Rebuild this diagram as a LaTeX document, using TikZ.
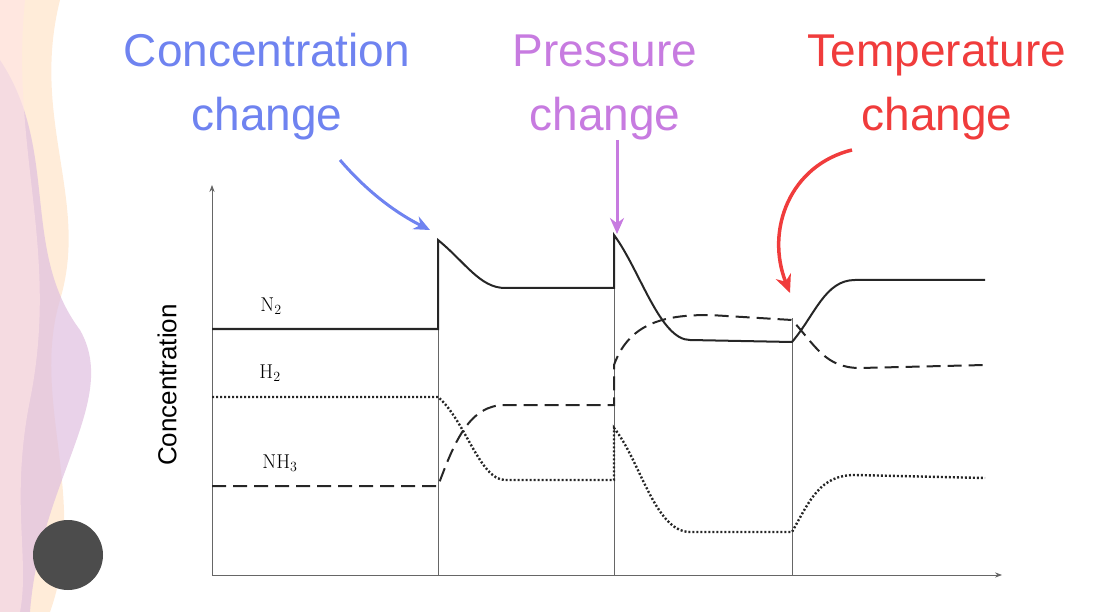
\documentclass[tikz,border=0pt]{standalone}
\usepackage{fontspec}
\setsansfont{Liberation Sans}
\usetikzlibrary{arrows.meta}
\definecolor{cblue}{HTML}{6F83F0}
\definecolor{cviol}{HTML}{C77BE0}
\definecolor{cred}{HTML}{F03C3C}
\begin{document}
\begin{tikzpicture}[x=1pt,y=-1pt,
  title/.style={font=\sffamily\fontsize{46}{64}\selectfont,align=center},
  curve/.style={line width=2pt,black!85},
  lab/.style={font=\fontsize{20}{20}\selectfont},
  guide/.style={black!60,line width=0.8pt}]
\useasboundingbox (0,0) rectangle (1103,612);
% decorative stripe
\fill[orange!15] (0,0) -- (60,0) .. controls (30,120) and (90,200) .. (60,300) .. controls (30,400) and (90,500) .. (50,612) -- (0,612) -- cycle;
\fill[violet!25,opacity=0.7] (0,60) .. controls (60,150) and (20,250) .. (80,330) .. controls (120,400) and (40,480) .. (30,612) -- (0,612) -- cycle;
\fill[pink!40,opacity=0.6] (0,0) -- (25,0) .. controls (10,150) and (60,250) .. (30,400) .. controls (10,500) and (30,560) .. (20,612) -- (0,612) -- cycle;
\node[circle,fill=black!70,minimum size=70pt] (lens) at (68,555) {};
% titles
\node[title,text=cblue] (tc) at (267,87) {Concentration\\change};
\node[title,text=cviol] (tp) at (605,87) {Pressure\\change};
\node[title,text=cred] (tt) at (937,87) {Temperature\\change};
% axes
\coordinate (o) at (212,575);
\coordinate (ytop) at (212,185);
\coordinate (xend) at (1002,575);
\draw[guide,-{Stealth[length=7pt]}] (o) -- (ytop);
\draw[guide,-{Stealth[length=7pt]}] (o) -- (xend);
\node[font=\sffamily\fontsize{26}{26}\selectfont,rotate=90] (yl) at (167,385) {Concentration};
% guides
\coordinate (g1) at (438,575); \coordinate (g1t) at (438,240);
\coordinate (g2) at (614,575); \coordinate (g2t) at (614,235);
\coordinate (g3) at (792,575); \coordinate (g3t) at (792,318);
\draw[guide] (g1) -- (g1t);
\draw[guide] (g2) -- (g2t);
\draw[guide] (g3) -- (g3t);
% N2
\draw[curve] (212,329) -- (438,329) -- (438,240) .. controls (465,262) and (480,288) .. (505,288) -- (614,288) -- (614,235)
  .. controls (640,270) and (660,340) .. (690,340) -- (792,342) .. controls (815,315) and (825,280) .. (855,280) -- (985,280);
% H2
\draw[curve,dotted,line width=2.4pt] (212,397) -- (438,397) .. controls (465,420) and (480,480) .. (505,480) -- (614,480) -- (614,428)
  .. controls (640,460) and (655,532) .. (690,532) -- (792,532) .. controls (810,500) and (820,475) .. (855,475) -- (985,478);
% NH3
\draw[curve,dash pattern=on 14pt off 7pt] (212,486) -- (438,486) .. controls (455,440) and (470,405) .. (505,405) -- (614,405) -- (614,365)
  .. controls (630,320) and (670,315) .. (710,315) -- (792,320) .. controls (815,345) and (825,368) .. (860,368) -- (985,365);
% labels
\node[lab] (ln) at (271,306) {N\textsubscript{2}};
\node[lab] (lh) at (270,373) {H\textsubscript{2}};
\node[lab] (la) at (280,463) {NH\textsubscript{3}};
% arrows
\coordinate (a1) at (430,230);
\coordinate (a2) at (617,234);
\coordinate (a3) at (790,293);
\draw[cblue,line width=3pt,-{Stealth[length=16pt,width=14pt]}] (340,160) .. controls (370,195) and (400,215) .. (a1);
\draw[cviol,line width=3pt,-{Stealth[length=16pt,width=14pt]}] (617,140) -- (a2);
\draw[cred,line width=3.5pt,-{Stealth[length=18pt,width=16pt]}] (852,150) .. controls (790,165) and (765,230) .. (a3);
\end{tikzpicture}
\end{document}
